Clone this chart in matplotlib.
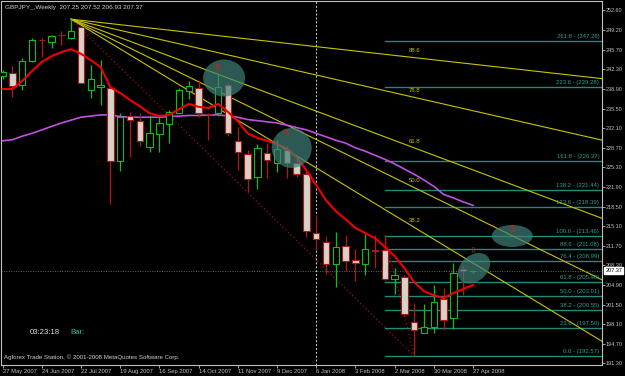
import numpy as np
import matplotlib
matplotlib.use('Agg')
import matplotlib.pyplot as plt
import matplotlib.transforms as mtransforms
from matplotlib.patches import Ellipse

# недельные свечи GBPJPY (с 27 May 2007)
opens = [241.1, 241.7, 239.6, 243.8, 247.4, 247.0, 248.3, 247.7, 249.7, 238.7,
         239.2, 239.1, 226.4, 234.2, 233.3, 228.8, 231.1, 232.9, 234.7, 238.6,
         239.0, 234.6, 234.7, 239.6, 229.9, 227.6, 223.6, 227.8, 226.0, 228.3,
         226.1, 224.2, 213.9, 212.4, 208.6, 211.6, 209.2, 208.6, 210.85, 210.9,
         205.9, 206.3, 198.5, 196.6, 197.6, 202.4, 199.1, 207.6, 207.25]
highs = [242.2, 242.8, 244.3, 247.8, 247.7, 248.3, 249.0, 251.0, 249.8, 243.1,
         243.9, 239.6, 234.8, 234.9, 234.7, 234.4, 234.1, 235.2, 239.0, 240.2,
         240.4, 234.8, 241.7, 239.9, 232.3, 228.3, 229.3, 229.6, 230.0, 229.0,
         226.9, 224.6, 217.0, 213.4, 214.0, 213.5, 211.1, 213.7, 213.5, 213.46,
         207.9, 206.6, 201.7, 201.6, 204.9, 204.3, 208.7, 208.4, 207.52]
lows = [240.6, 237.5, 238.8, 243.5, 244.5, 246.0, 246.5, 247.6, 239.9, 237.4,
        236.2, 219.0, 224.7, 227.1, 229.0, 228.0, 228.0, 229.6, 234.7, 237.1,
        234.1, 230.0, 234.2, 230.7, 224.8, 221.1, 221.6, 223.5, 224.5, 223.4,
        223.6, 213.3, 211.0, 206.8, 204.5, 207.3, 205.6, 206.6, 207.9, 205.7,
        203.4, 199.6, 192.57, 196.5, 196.5, 197.0, 197.2, 203.1, 206.93]
closes = [241.8, 239.5, 243.7, 247.4, 247.35, 248.1, 248.25, 249.0, 240.0, 240.6,
          239.6, 226.4, 234.1, 233.5, 229.9, 231.2, 233.0, 234.9, 238.8, 239.4,
          234.8, 234.5, 239.3, 231.2, 228.0, 223.2, 228.6, 226.6, 228.4, 226.1,
          224.1, 214.2, 212.8, 208.6, 211.5, 209.1, 208.7, 211.2, 210.8, 206.0,
          206.6, 199.9, 197.0, 197.6, 202.0, 198.8, 206.9, 207.4, 207.37]

# скользящие средние (красная и фиолетовая)
ma_fast = [238.9, 238.9, 240.3, 242.0, 243.6, 244.6, 245.3, 245.8, 245.0, 243.9,
           242.7, 239.2, 238.2, 237.0, 235.9, 234.7, 234.2, 234.4, 235.4, 236.3,
           235.8, 235.6, 236.3, 234.9, 233.3, 231.2, 230.4, 229.9, 229.3, 228.6,
           227.1, 224.8, 222.2, 219.6, 217.7, 216.3, 214.8, 213.9, 213.0, 211.5,
           209.9, 207.8, 205.4, 203.8, 203.1, 202.6, 203.5, 204.2, 204.9]
ma_slow = [229.9, 230.1, 230.7, 231.2, 231.8, 232.4, 233.0, 233.5, 234.0, 234.2,
           234.4, 234.4, 234.1, 234.0, 234.0, 234.0, 234.0, 234.1, 234.2, 234.3,
           234.3, 234.4, 234.4, 234.2, 234.0, 233.6, 233.4, 233.2, 233.0, 232.6,
           232.2, 231.8, 231.2, 230.6, 230.0, 229.5, 228.7, 228.1, 227.4, 226.7,
           225.9, 225.0, 224.1, 223.1, 222.0, 220.6, 220.0, 219.3, 218.7]

date_labels = ['27 May 2007', '24 Jun 2007', '22 Jul 2007', '19 Aug 2007',
               '16 Sep 2007', '14 Oct 2007', '11 Nov 2007', '9 Dec 2007',
               '6 Jan 2008', '3 Feb 2008', '2 Mar 2008', '30 Mar 2008',
               '27 Apr 2008']
price_ticks = [252.60, 249.20, 245.70, 242.30, 238.90, 235.50, 232.10, 228.70,
               225.30, 221.90, 218.50, 215.10, 211.70, 208.30, 204.90, 201.50,
               198.10, 194.70, 191.30]

# фибо-веер: от максимума бара 7 к минимуму бара 42
fan_levels = [38.2, 50.0, 61.8, 76.8, 88.6]
fan_names = ['38.2', '50.0', '61.8', '76.8', '88.6']
# фибо-уровни: от 213.46 (бар 39) к 192.57 (бар 42)
fib_names = ['0.0', '23.6', '38.2', '50.0', '61.8', '76.4', '88.6', '100.0',
             '123.6', '138.2', '161.8', '223.6', '261.8']
fib_prices = [192.57, 197.50, 200.55, 203.01, 205.48, 208.99, 211.08, 213.46,
              218.39, 221.44, 226.37, 239.28, 247.26]

last_price = 207.37

n = len(opens)
idx = np.arange(n)
o = np.array(opens); c = np.array(closes)
bull = c >= o

fig = plt.figure(figsize=(6.25, 3.76), dpi=100, facecolor='black')
ax = fig.add_axes([1 / 625, 11 / 376, 601 / 625, 364 / 376], facecolor='black')
ax.set_xlim(-0.163, 61.16)
ax.set_ylim(191.01, 254.16)

# уровни фибо
fib_start = 39
for name, p in zip(fib_names, fib_prices):
    ax.plot([fib_start, 61.16], [p, p], color='#1f8c7c', lw=1.0, zorder=1)
    ax.annotate(f'{name} - ({p:.2f})', xy=(1.0, p), xycoords=('axes fraction', 'data'),
                xytext=(-2, 1.5), textcoords='offset points', ha='right', va='bottom',
                color='#2aa090', fontsize=4.3, family='Liberation Sans')
ax.plot([fib_start, 42], [highs[fib_start], lows[42]], color='#a01010',
        lw=0.9, ls=(0, (1, 2)), zorder=1)

# веер
x0, p0 = 7, highs[7]
x1, p1 = 42, lows[42]
ax.plot([x0, x1], [p0, p1], color='#a01010', lw=0.9, ls=(0, (1, 2)), zorder=1)
xe = 61.16
for lvl, name in zip(fan_levels, fan_names):
    pt = p1 + lvl / 100 * (p0 - p1)
    slope = (pt - p0) / (x1 - x0)
    ax.plot([x0, xe], [p0, p0 + slope * (xe - x0)], color='#c8c400', lw=0.8, zorder=2)
    ax.annotate(name, xy=(x1, pt), xytext=(0, 3), textcoords='offset points',
                ha='center', va='bottom', color='#c8c400', fontsize=4.3,
                family='Liberation Sans')

# скользящие
ax.plot(idx, ma_slow, color='#c050e0', lw=1.2, zorder=3)

# свечи
wick_col = np.where(bull, '#10c010', '#b01818')
ax.vlines(idx, lows, highs, colors=wick_col, lw=0.9, zorder=4)
bottoms = np.minimum(o, c)
heights = np.maximum(np.abs(c - o), 0.08)
ax.bar(idx, heights, bottom=bottoms, width=0.64,
       color=np.where(bull, 'black', '#d6d2c8'),
       edgecolor=np.where(bull, '#10c010', '#b01818'), lw=0.8, zorder=5)

ax.plot(idx, ma_fast, color='#f00000', lw=1.5, zorder=6)

# разделитель и текущая цена
ax.axvline(32, color='#d0d0d0', lw=0.7, ls=(0, (2, 2)), zorder=2)
ax.axhline(last_price, color='#6a6a40', lw=0.7, ls=(0, (1, 1.5)), zorder=2)

# эллипсы-пометки (размеры в дюймах)
marks = [(22.6, 240.8, 0.42, 0.37, 0), (29.5, 228.66, 0.40, 0.40, 0),
         (52.0, 213.4, 0.41, 0.22, 0), (48.1, 207.8, 0.36, 0.26, 40)]
for xm, ym, w, h, ang in marks:
    tr = fig.dpi_scale_trans + mtransforms.ScaledTranslation(xm, ym, ax.transData)
    ax.add_patch(Ellipse((0, 0), w, h, angle=ang, transform=tr,
                         facecolor='#3f8078', alpha=0.7, edgecolor='none', zorder=7))
for xm, ym in [(21.9, 242.4), (28.9, 231.1), (52.0, 214.6)]:
    ax.text(xm, ym, 'ß', color='#d02020', fontsize=6, ha='center', va='center', zorder=8)
ax.text(48, 210.8, '⇩', color='#d02020', fontsize=6, ha='center', va='center', zorder=8)

# оси
for s in ax.spines.values():
    s.set_color('#c0c0c0')
    s.set_linewidth(0.8)
ax.yaxis.tick_right()
ax.set_yticks(price_ticks)
ax.set_yticklabels([f'{p:.2f}' for p in price_ticks])
ax.set_xticks(idx[::4])
ax.set_xticklabels(date_labels, ha='left')
ax.tick_params(colors='#c0c0c0', labelsize=4.2, length=2, width=0.6, pad=0.8)
ax.tick_params(axis='y', labelsize=4.0)
for t in ax.get_xticklabels() + ax.get_yticklabels():
    t.set_family('Liberation Sans')

ax.annotate(f'{last_price:.2f}', xy=(1.0, last_price), xycoords=('axes fraction', 'data'),
            xytext=(2.3, 0), textcoords='offset points', ha='left', va='center',
            fontsize=4.0, color='black', family='Liberation Sans',
            bbox=dict(boxstyle='square,pad=0.15', fc='white', ec='white'))

ax.text(0.006, 0.988, 'GBPJPY_,Weekly  207.25 207.52 206.93 207.37', transform=ax.transAxes,
        color='#d0d0d0', fontsize=4.6, family='Liberation Sans', va='top')
ax.text(0.048, 0.09, '03:23:18', transform=ax.transAxes, color='#e0e0e0',
        fontsize=5.6, family='Liberation Sans', va='center')
ax.text(0.115, 0.09, 'Bar:', transform=ax.transAxes, color='#10d0a0',
        fontsize=5.6, family='Liberation Sans', va='center')
ax.text(0.005, 0.015, 'Agforex Trade Station, © 2001-2008 MetaQuotes Software Corp.',
        transform=ax.transAxes, color='#d0d0d0', fontsize=4.4,
        family='Liberation Sans', va='bottom')

fig.savefig('out.png', dpi=100, facecolor='black')
